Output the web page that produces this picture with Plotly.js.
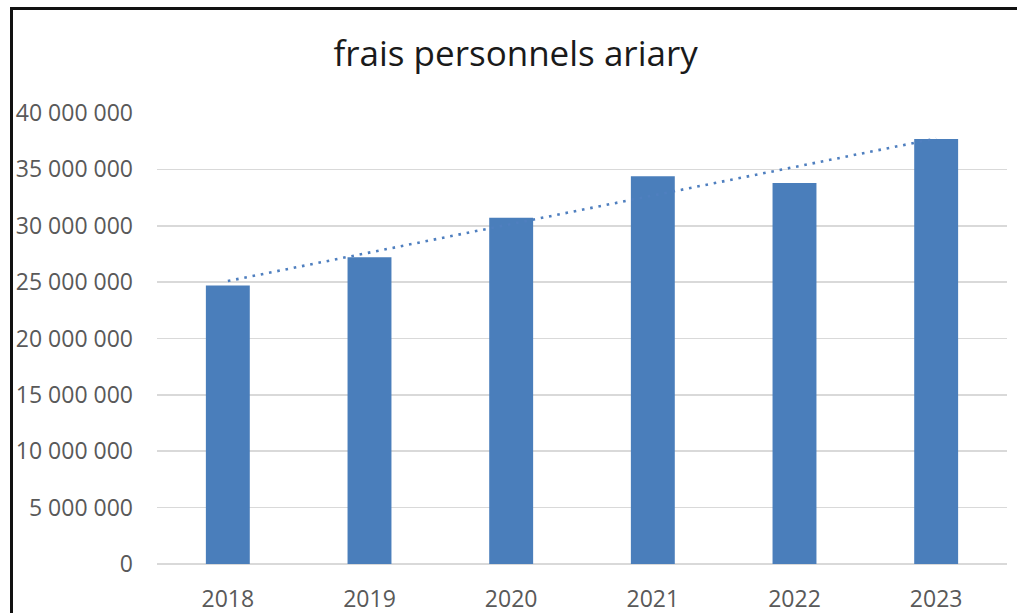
<!DOCTYPE html>
<html>
<head>
<meta charset="utf-8">
<script src="https://cdn.plot.ly/plotly-3.0.1.min.js"></script>
<style>
  html, body { margin: 0; padding: 0; background: #fff; }
  #wrap { position: relative; width: 1017px; height: 613px; overflow: hidden; }
  #chart { position: absolute; left: 0; top: 0; width: 1017px; height: 613px; }
  #frame { position: absolute; left: 10px; top: 7px; width: 1010px; height: 610px;
           border-left: 3px solid #111; border-top: 3px solid #111; pointer-events: none; }
</style>
</head>
<body>
<div id="wrap">
  <div id="chart"></div>
  <div id="frame"></div>
</div>
<script>
// Data
const years = ["2018", "2019", "2020", "2021", "2022", "2023"];
const fraisPersonnels = [24700000, 27200000, 30700000, 34400000, 33800000, 37700000];
const chartTitle = "frais personnels ariary";

// Linear trendline (least squares, as in Excel)
const n = fraisPersonnels.length;
const xs = fraisPersonnels.map((_, i) => i);
const mx = xs.reduce((a, b) => a + b, 0) / n;
const my = fraisPersonnels.reduce((a, b) => a + b, 0) / n;
let sxy = 0, sxx = 0;
for (let i = 0; i < n; i++) { sxy += (xs[i] - mx) * (fraisPersonnels[i] - my); sxx += (xs[i] - mx) ** 2; }
const slope = sxy / sxx, intercept = my - slope * mx;
const trend = xs.map(x => intercept + slope * x);

const barColor = "#4a7ebb";
const font = "Open Sans, Noto Sans, sans-serif";

const traces = [
  {
    type: "bar", x: years, y: fraisPersonnels,
    marker: { color: barColor, line: { width: 0 } },
    hoverinfo: "x+y", showlegend: false
  },
  {
    type: "scatter", mode: "lines", x: years, y: trend,
    line: { color: "#4f7fbf", width: 2.6, dash: "2.6px,5.8px" },
    hoverinfo: "skip", showlegend: false
  }
];

const layout = {
  width: 1017, height: 613,
  margin: { l: 157, r: 10, t: 113, b: 49, pad: 0 },
  paper_bgcolor: "rgba(0,0,0,0)", plot_bgcolor: "#fff",
  separators: ", ",
  bargap: 0.69,
  title: {
    text: chartTitle,
    font: { family: font, size: 35, color: "#1a1a1a" },
    xref: "container", yref: "container", x: 0.507, y: 0.912,
    xanchor: "center", yanchor: "middle"
  },
  xaxis: {
    type: "category",
    showgrid: false, showline: false, zeroline: false, ticks: "",
    tickfont: { family: font, size: 23, color: "#595959" },
    ticklabelstandoff: 19
  },
  yaxis: {
    range: [0, 40000000], dtick: 5000000, tickformat: ",d",
    showgrid: true, gridcolor: "#d9d9d9", gridwidth: 1.6,
    zeroline: true, zerolinecolor: "#d9d9d9", zerolinewidth: 1.6,
    showline: false, ticks: "",
    tickfont: { family: font, size: 23, color: "#595959" },
    ticklabelstandoff: 23
  }
};

Plotly.newPlot("chart", traces, layout, { displayModeBar: false, staticPlot: true });
</script>
</body>
</html>
